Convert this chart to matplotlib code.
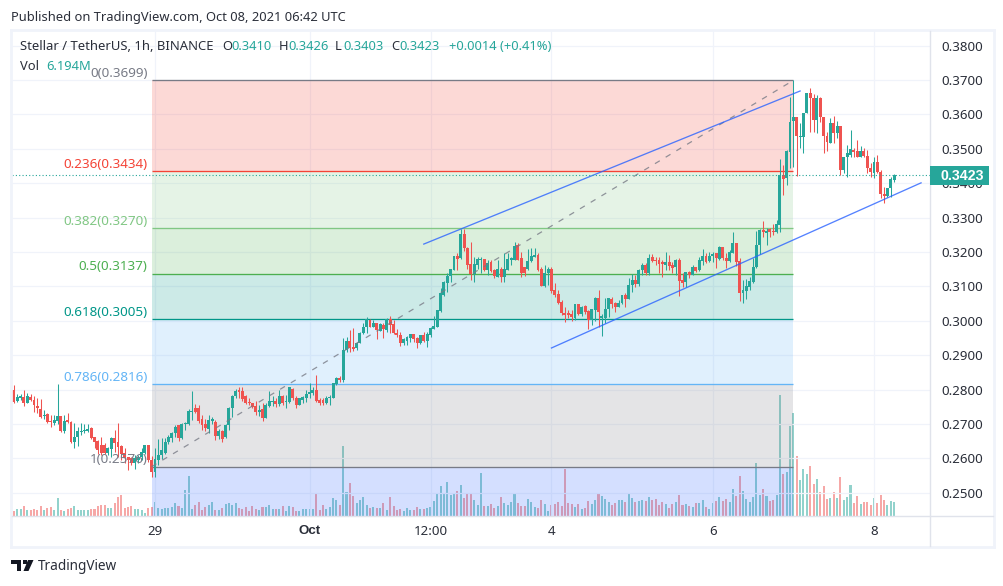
import numpy as np
import matplotlib
matplotlib.use("Agg")
import matplotlib.pyplot as plt
from matplotlib.lines import Line2D
from matplotlib.patches import Rectangle, Polygon

plt.rcParams['font.family'] = ['Noto Sans', 'DejaVu Sans']

# hourly candles
opens = [.2780,.2799,.2768,.2777,.2778,.2762,.2778,.2770,.2752,.2744,
.2724,.2728,.2708,.2702,.2710,.2723,.2681,.2712,.2707,.2649,
.2663,.2678,.2680,.2680,.2688,.2661,.2651,.2639,.2639,.2617,
.2626,.2658,.2647,.2637,.2615,.2603,.2600,.2586,.2595,.2605,
.2615,.2639,.2595,.2561,.2595,.2610,.2617,.2649,.2660,.2673,
.2697,.2658,.2699,.2700,.2736,.2746,.2746,.2716,.2700,.2685,
.2710,.2705,.2665,.2680,.2663,.2697,.2746,.2781,.2799,.2797,
.2780,.2765,.2760,.2752,.2735,.2745,.2718,.2752,.2764,.2768,
.2758,.2781,.2763,.2764,.2803,.2777,.2755,.2770,.2776,.2787,
.2791,.2799,.2770,.2770,.2760,.2776,.2776,.2816,.2833,.2828,
.2915,.2942,.2923,.2920,.2935,.2964,.2981,.3002,.2983,.2993,
.2971,.2987,.2973,.3004,.2991,.2964,.2959,.2936,.2942,.2949,
.2961,.2950,.2936,.2958,.2942,.2959,.2977,.2983,.3029,.3075,
.3109,.3130,.3148,.3188,.3183,.3252,.3213,.3165,.3135,.3162,
.3178,.3181,.3148,.3172,.3148,.3128,.3152,.3128,.3148,.3178,
.3178,.3219,.3184,.3155,.3150,.3174,.3186,.3191,.3150,.3101,
.3140,.3150,.3089,.3078,.3054,.3024,.3024,.3021,.3007,.3049,
.3020,.3043,.3029,.3002,.3031,.3065,.3007,.3007,.3033,.3062,
.3051,.3041,.3051,.3075,.3062,.3104,.3120,.3107,.3148,.3162,
.3138,.3185,.3177,.3177,.3170,.3162,.3172,.3162,.3157,.3177,
.3119,.3112,.3143,.3133,.3157,.3148,.3175,.3188,.3174,.3188,
.3196,.3179,.3214,.3184,.3175,.3198,.3225,.3175,.3082,.3088,
.3099,.3114,.3157,.3220,.3264,.3256,.3266,.3261,.3259,.3279,
.3424,.3414,.3492,.3582,.3591,.3535,.3535,.3603,.3661,.3647,
.3584,.3647,.3591,.3538,.3518,.3574,.3545,.3566,.3438,.3475,
.3482,.3496,.3494,.3477,.3494,.3480,.3445,.3431,.3461,.3433,
.3368,.3363,.3385,.3410]
highs = [.2804,.2813,.2787,.2787,.2799,.2789,.2787,.2781,.2775,.2772,
.2741,.2731,.2726,.2726,.2816,.2723,.2726,.2731,.2710,.2702,
.2692,.2702,.2699,.2699,.2692,.2663,.2654,.2663,.2644,.2634,
.2663,.2683,.2702,.2639,.2629,.2605,.2605,.2610,.2610,.2629,
.2639,.2639,.2607,.2629,.2655,.2658,.2658,.2668,.2678,.2697,
.2697,.2702,.2707,.2744,.2796,.2758,.2755,.2726,.2716,.2726,
.2721,.2712,.2685,.2683,.2700,.2750,.2784,.2801,.2807,.2807,
.2784,.2775,.2762,.2768,.2755,.2762,.2760,.2797,.2780,.2775,
.2799,.2784,.2784,.2809,.2804,.2780,.2775,.2780,.2799,.2818,
.2807,.2842,.2775,.2775,.2780,.2784,.2820,.2838,.2840,.2949,
.2954,.2973,.2980,.2939,.2967,.2993,.3010,.3004,.3002,.2994,
.2993,.2993,.3007,.3014,.3002,.2975,.2966,.2949,.2956,.2962,
.2962,.2954,.2959,.2966,.2966,.2983,.3014,.3031,.3094,.3117,
.3140,.3152,.3188,.3198,.3266,.3266,.3215,.3229,.3186,.3186,
.3186,.3181,.3177,.3177,.3152,.3177,.3157,.3196,.3196,.3186,
.3229,.3225,.3201,.3157,.3210,.3211,.3213,.3196,.3157,.3162,
.3157,.3157,.3109,.3089,.3060,.3041,.3031,.3031,.3049,.3049,
.3043,.3046,.3031,.3035,.3068,.3089,.3020,.3065,.3065,.3068,
.3056,.3060,.3075,.3080,.3123,.3136,.3133,.3150,.3167,.3167,
.3194,.3194,.3186,.3186,.3177,.3201,.3191,.3172,.3179,.3182,
.3138,.3143,.3146,.3162,.3157,.3186,.3208,.3196,.3201,.3199,
.3198,.3217,.3215,.3196,.3206,.3257,.3225,.3182,.3119,.3121,
.3128,.3183,.3262,.3266,.3290,.3269,.3269,.3281,.3293,.3469,
.3453,.3497,.3652,.3699,.3591,.3574,.3603,.3661,.3676,.3659,
.3656,.3650,.3593,.3550,.3589,.3595,.3582,.3566,.3477,.3511,
.3555,.3501,.3525,.3508,.3502,.3496,.3458,.3475,.3482,.3438,
.3390,.3385,.3417,.3426]
lows = [.2780,.2762,.2765,.2770,.2752,.2760,.2768,.2736,.2731,.2718,
.2714,.2704,.2692,.2697,.2700,.2678,.2675,.2702,.2646,.2631,
.2636,.2668,.2673,.2678,.2655,.2629,.2613,.2610,.2613,.2610,
.2605,.2620,.2605,.2595,.2586,.2566,.2581,.2568,.2586,.2595,
.2613,.2591,.2547,.2545,.2581,.2597,.2613,.2641,.2649,.2661,
.2652,.2655,.2683,.2697,.2713,.2731,.2704,.2683,.2680,.2673,
.2700,.2653,.2655,.2649,.2658,.2683,.2721,.2775,.2775,.2768,
.2758,.2755,.2746,.2726,.2723,.2710,.2717,.2749,.2752,.2750,
.2752,.2755,.2746,.2760,.2770,.2746,.2755,.2760,.2765,.2775,
.2784,.2765,.2755,.2755,.2758,.2755,.2775,.2813,.2823,.2823,
.2910,.2910,.2913,.2915,.2935,.2962,.2964,.2981,.2981,.2946,
.2971,.2949,.2968,.2965,.2961,.2954,.2927,.2930,.2930,.2939,
.2939,.2922,.2934,.2939,.2924,.2954,.2975,.2981,.3026,.3072,
.3085,.3114,.3148,.3148,.3181,.3204,.3152,.3118,.3114,.3150,
.3138,.3146,.3133,.3143,.3125,.3128,.3114,.3114,.3148,.3162,
.3177,.3177,.3128,.3130,.3148,.3172,.3186,.3145,.3101,.3099,
.3104,.3080,.3068,.3048,.3017,.2997,.3007,.3000,.3002,.3017,
.3014,.3021,.2975,.2988,.3000,.2981,.2956,.2993,.3012,.3036,
.3025,.3039,.3049,.3039,.3062,.3085,.3099,.3101,.3133,.3133,
.3133,.3172,.3162,.3138,.3126,.3148,.3148,.3138,.3133,.3072,
.3099,.3099,.3123,.3133,.3143,.3146,.3162,.3167,.3172,.3172,
.3153,.3177,.3177,.3153,.3172,.3196,.3159,.3057,.3053,.3062,
.3089,.3109,.3154,.3193,.3245,.3220,.3243,.3249,.3256,.3259,
.3366,.3395,.3445,.3448,.3421,.3501,.3489,.3603,.3550,.3550,
.3545,.3579,.3489,.3494,.3518,.3518,.3530,.3424,.3429,.3419,
.3477,.3477,.3475,.3475,.3475,.3431,.3417,.3414,.3429,.3356,
.3341,.3359,.3361,.3403]
closes = [.2799,.2765,.2778,.2780,.2762,.2781,.2770,.2755,.2746,.2721,
.2726,.2707,.2707,.2712,.2723,.2681,.2710,.2707,.2647,.2663,
.2680,.2680,.2683,.2686,.2658,.2649,.2623,.2615,.2617,.2629,
.2658,.2644,.2634,.2613,.2600,.2595,.2586,.2600,.2605,.2620,
.2639,.2595,.2561,.2597,.2610,.2623,.2647,.2663,.2673,.2692,
.2658,.2699,.2702,.2738,.2738,.2736,.2708,.2697,.2688,.2712,
.2714,.2666,.2681,.2655,.2697,.2746,.2781,.2797,.2794,.2772,
.2762,.2760,.2748,.2736,.2741,.2718,.2755,.2767,.2768,.2758,
.2781,.2760,.2767,.2807,.2775,.2755,.2775,.2778,.2787,.2793,
.2799,.2768,.2762,.2762,.2775,.2778,.2818,.2835,.2828,.2915,
.2942,.2920,.2918,.2935,.2964,.2981,.3004,.2983,.2993,.2973,
.2990,.2975,.3004,.2988,.2964,.2960,.2936,.2947,.2954,.2962,
.2947,.2936,.2959,.2942,.2963,.2978,.2985,.3031,.3082,.3113,
.3131,.3150,.3188,.3180,.3252,.3212,.3162,.3135,.3165,.3181,
.3181,.3148,.3169,.3146,.3131,.3152,.3128,.3150,.3181,.3184,
.3217,.3178,.3138,.3138,.3175,.3188,.3191,.3148,.3101,.3140,
.3150,.3087,.3075,.3051,.3023,.3017,.3017,.3010,.3049,.3020,
.3041,.3026,.3002,.3033,.3065,.3026,.3014,.3035,.3065,.3049,
.3039,.3053,.3075,.3062,.3104,.3120,.3107,.3148,.3162,.3138,
.3182,.3175,.3174,.3164,.3164,.3172,.3160,.3154,.3177,.3117,
.3111,.3143,.3133,.3157,.3145,.3177,.3188,.3172,.3188,.3194,
.3182,.3214,.3182,.3175,.3200,.3225,.3172,.3082,.3089,.3101,
.3116,.3157,.3220,.3264,.3257,.3261,.3259,.3259,.3281,.3424,
.3412,.3495,.3579,.3593,.3537,.3538,.3603,.3661,.3647,.3584,
.3647,.3591,.3538,.3521,.3574,.3545,.3566,.3438,.3475,.3487,
.3499,.3491,.3477,.3494,.3480,.3445,.3433,.3461,.3433,.3368,
.3364,.3385,.3412,.3423]
# volume in millions
volumes = [2.3,2.4,3.0,3.2,4.5,2.7,2.7,3.0,2.7,4.5,
2.7,3.5,4.2,2.7,8.2,2.7,2.4,3.0,3.5,4.5,
2.7,2.7,2.9,2.9,3.3,3.0,4.5,4.8,5.0,3.6,
3.6,6.0,8.8,9.5,3.5,4.2,4.5,3.0,3.0,2.7,
1.5,3.5,3.9,6.3,3.8,3.3,3.5,3.5,3.9,6.0,
4.5,3.6,11.8,18.1,3.3,5.1,6.3,2.7,4.2,5.1,
6.3,2.7,2.7,3.6,5.6,5.7,5.1,5.7,3.6,3.0,
3.9,2.4,4.5,3.0,2.7,3.9,4.2,5.0,3.3,3.0,
3.0,4.5,2.1,4.5,3.9,2.1,2.4,3.0,3.0,3.0,
3.0,10.0,2.7,5.1,3.0,3.9,8.2,7.2,5.0,31.7,
10.9,14.9,9.1,5.9,7.2,8.6,5.0,3.6,4.1,3.6,
3.6,5.9,2.7,8.6,4.5,2.7,3.2,2.3,3.6,2.7,
2.7,4.1,3.2,3.2,3.6,4.1,6.8,10.0,13.6,10.0,
15.4,9.5,10.4,11.3,14.0,8.2,10.0,10.4,7.2,5.0,
19.5,4.5,4.5,5.4,3.6,4.5,8.6,5.9,5.0,6.3,
10.0,5.9,4.5,4.5,7.7,6.3,4.1,3.6,7.2,5.4,
2.3,5.0,5.4,6.3,4.5,21.3,5.9,5.4,4.1,5.4,
3.2,3.6,6.8,5.4,7.2,10.4,9.1,7.7,6.3,5.0,
5.9,7.2,7.2,6.3,10.4,8.2,6.3,6.8,7.2,6.8,
8.6,7.2,7.7,5.0,6.3,5.4,3.6,5.4,6.2,9.5,
4.8,5.4,4.5,4.1,5.9,5.9,7.2,4.2,3.2,5.9,
6.8,8.6,6.8,7.7,6.3,12.2,9.1,18.1,11.3,7.7,
6.3,8.6,23.9,9.5,12.2,9.1,6.8,7.2,9.5,54.8,
19.0,19.9,40.8,46.7,27.2,16.3,21.3,19.0,22.7,14.5,
16.8,10.9,13.6,7.7,8.2,10.9,8.2,17.7,7.2,8.6,
14.0,5.9,9.1,5.4,6.3,6.3,5.0,8.2,5.9,9.5,
7.2,5.0,6.8,6.194]

# fib retracement
fib_ratios = ['0', '0.236', '0.382', '0.5', '0.618', '0.786', '1']
fib_prices = [0.3699, 0.3434, 0.3270, 0.3137, 0.3005, 0.2816, 0.2576]
fib_line_colors = ['#787b86', '#f44336', '#81c784', '#4caf50', '#009688', '#64b5f6', '#787b86']
fib_fill_colors = ['#f44336', '#81c784', '#4caf50', '#009688', '#64b5f6', '#787b86', '#2962ff']
fib_start = 42
fib_end = 233

# two channel lines, (candle index, price)
upper_x = [123, 235]
upper_y = [0.3223, 0.3668]
lower_x = [161, 271]
lower_y = [0.2921, 0.3401]

price_ticks = [0.25, 0.26, 0.27, 0.28, 0.29, 0.30, 0.31, 0.32, 0.33, 0.34, 0.35, 0.36, 0.37, 0.38]
time_ticks = [43, 89, 125, 161, 209, 257]
time_labels = ['29', 'Oct', '12:00', '4', '6', '8']

GREEN = '#26a69a'
RED = '#ef5350'
TEXT = '#2a2e39'
W, H = 1004, 586

fig = plt.figure(figsize=(W / 100, H / 100), dpi=100, facecolor='white')
pos = [12 / W, 1 - 516 / H, 918 / W, 485 / H]

# volume lives on its own axes under the price axes
ax_vol = fig.add_axes(pos, zorder=1)
ax = fig.add_axes(pos, zorder=2)
ax.patch.set_visible(False)

x = np.arange(len(closes))
o = np.array(opens)
h = np.array(highs)
l = np.array(lows)
c = np.array(closes)
up = c >= o
colors = np.where(up, GREEN, RED)

ax_vol.bar(x, volumes, width=0.6, color=colors, alpha=0.5, linewidth=0)
ax_vol.set_ylim(0, 219)
ax_vol.set_yticks([])
ax_vol.set_xticks([])

ax.set_axisbelow(True)
ax.grid(True, color='#f0f3fa', linewidth=0.9)

# fib zones, last one runs to the bottom of the pane
bands = fib_prices + [0.24326]
for i in range(len(fib_prices)):
    ax.fill_between([fib_start, fib_end], bands[i + 1], bands[i], color=fib_fill_colors[i],
                    alpha=0.2, linewidth=0, zorder=1)
    ax.hlines(fib_prices[i], fib_start, fib_end, color=fib_line_colors[i], linewidth=0.95, zorder=1.5)
    ax.annotate('%s(%.4f)' % (fib_ratios[i], fib_prices[i]), xy=(fib_start, fib_prices[i]),
                xytext=(-3, 0.2), textcoords='offset points', ha='right', va='bottom',
                color=fib_line_colors[i], fontsize=9.7, zorder=6)

ax.vlines(x, l, h, color=colors, linewidth=0.75, zorder=3)
ax.bar(x, np.maximum(np.abs(c - o), 0.00025), bottom=np.minimum(o, c), width=0.86,
       color=colors, linewidth=0, zorder=3.1)

ax.plot([fib_start, fib_end], [fib_prices[-1], fib_prices[0]], color='#787b86', linewidth=0.9,
        alpha=0.8, linestyle=(0, (4.5, 5.5)), zorder=4)
ax.plot(upper_x, upper_y, color='#2962ff', linewidth=0.95, alpha=0.8, zorder=4)
ax.plot(lower_x, lower_y, color='#2962ff', linewidth=0.95, alpha=0.8, zorder=4)
ax.axhline(closes[-1], color=GREEN, linewidth=0.8, linestyle=(0, (1, 2)), zorder=4)

ax.set_xlim(0.446, 273.66)
ax.set_ylim(0.24326, 0.38424)
ax_vol.set_xlim(0.446, 273.66)

ax.yaxis.tick_right()
ax.set_yticks(price_ticks)
ax.set_yticklabels(['%.4f' % p for p in price_ticks])
ax.set_xticks(time_ticks)
ax.set_xticklabels(time_labels)
ax.tick_params(axis='both', length=0, labelsize=9.6, labelcolor=TEXT)
ax.tick_params(axis='y', pad=8.5)
ax.tick_params(axis='x', pad=6.5)
oct_label = ax.get_xticklabels()[1]
oct_label.set_fontfamily('Liberation Sans')
oct_label.set_fontweight('bold')
for a in (ax, ax_vol):
    for s in a.spines.values():
        s.set_visible(False)


def px_line(x0, y0, x1, y1, color='#e0e3eb', lw=1.0):
    fig.add_artist(Line2D([x0 / W, x1 / W], [1 - y0 / H, 1 - y1 / H], color=color,
                          linewidth=lw, transform=fig.transFigure, zorder=3))


def px_text(px, py, s, color=TEXT, size=9.3, **kw):
    fig.text(px / W, 1 - py / H, s, color=color, fontsize=size, ha=kw.pop('ha', 'left'),
             va='center', zorder=6, **kw)


# pane frame
px_line(11, 30, 994, 30, '#f0f3fa', 2)
px_line(11, 30, 11, 547, '#f0f3fa', 2)
px_line(11, 547, 994, 547, '#f0f3fa', 2)
px_line(994, 30, 994, 547, '#f0f3fa', 2)
px_line(930, 31, 930, 546)
px_line(12, 516, 993, 516)

# last price tag
fig.add_artist(Rectangle((930 / W, 1 - 185 / H), 59 / W, 19 / H, transform=fig.transFigure,
                         color=GREEN, linewidth=0, zorder=5))
px_text(962, 175.5, '%.4f' % closes[-1], color='white', size=10.2, ha='center',
        family='Liberation Sans', weight='bold')

px_text(11, 17, 'Published on TradingView.com, Oct 08, 2021 06:42 UTC')
px_text(20, 47, 'Stellar / TetherUS, 1h, BINANCE', size=9.4)
for px, s in [(222, 'O'), (279, 'H'), (335, 'L'), (391, 'C')]:
    px_text(px, 47, s)
for px, s in [(231, '0.3410'), (288, '0.3426'), (343, '0.3403'), (399, '0.3423'), (449, '+0.0014 (+0.41%)')]:
    px_text(px, 47, s, color=GREEN)
px_text(20, 66, 'Vol')
px_text(46, 66, '6.194M', color=GREEN)

# logo
px_text(38, 567, 'TradingView', size=9.8)
for pts in ([(11, 560), (21, 560), (21, 571), (17, 571), (17, 564), (11, 564)],
            [(28, 560), (33.5, 560), (28.5, 571), (23.5, 571)]):
    fig.add_artist(Polygon([(a / W, 1 - b / H) for a, b in pts], closed=True, transform=fig.transFigure,
                           color='#131722', linewidth=0, zorder=6))
fig.add_artist(Rectangle((22.5 / W, 1 - 564 / H), 4 / W, 4 / H, transform=fig.transFigure,
                         color='#131722', linewidth=0, zorder=6))

fig.savefig('out.png', dpi=100, facecolor='white')
